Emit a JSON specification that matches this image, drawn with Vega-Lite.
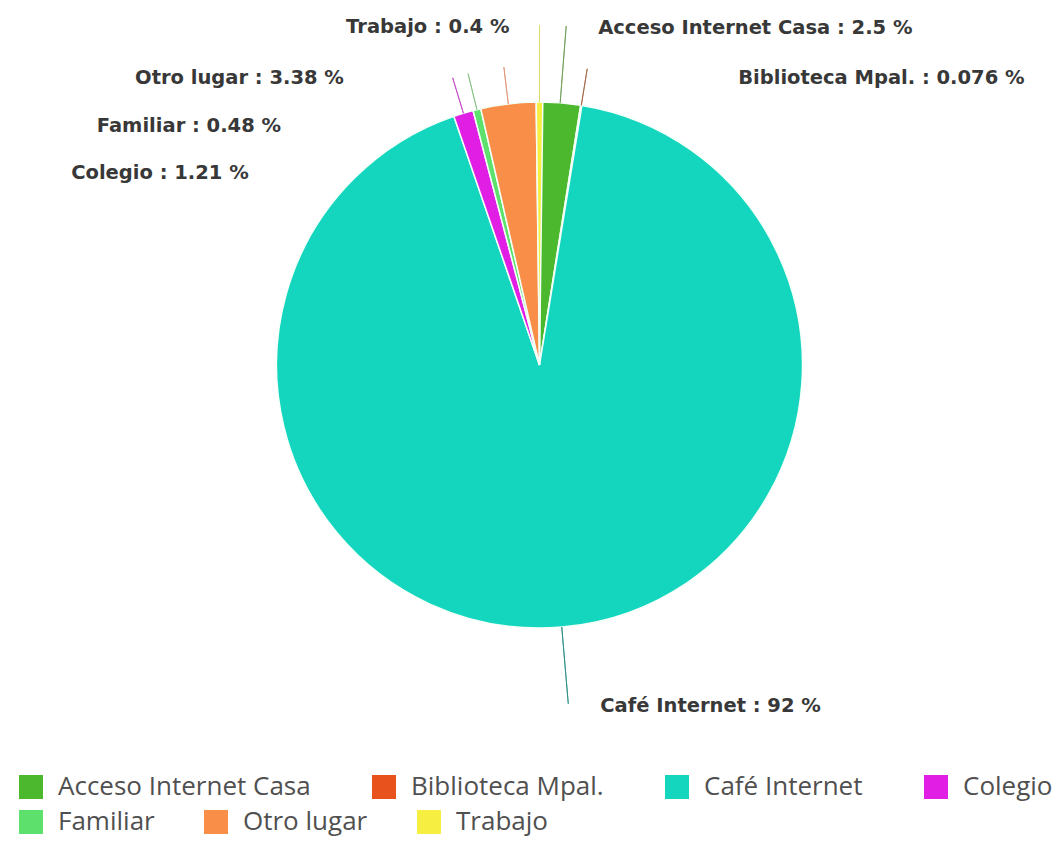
{
  "$schema": "https://vega.github.io/schema/vega-lite/v6.json",
  "autosize": "none",
  "width": 1047,
  "height": 730,
  "padding": {"left": 16, "top": 0, "right": 0, "bottom": 116},
  "background": "white",
  "config": {"view": {"stroke": null}},
  "data": {"values": [
    {"cat": "Acceso Internet Casa", "value": 2.5},
    {"cat": "Biblioteca Mpal.", "value": 0.076},
    {"cat": "Café Internet", "value": 92},
    {"cat": "Colegio", "value": 1.21},
    {"cat": "Familiar", "value": 0.48},
    {"cat": "Otro lugar", "value": 3.38},
    {"cat": "Trabajo", "value": 0.4}
  ]},
  "transform": [
    {"stack": "value", "groupby": [], "sort": [{"field": "cat", "order": "ascending"}], "as": ["v0", "v1"]},
    {"calculate": "(datum.v0 + datum.v1) / 2", "as": "mid"},
    {"calculate": "datum.cat + ' : ' + datum.value + ' %'", "as": "label"}
  ],
  "resolve": {"scale": {"color": "independent"}, "legend": {"color": "independent"}},
  "layer": [
    {
      "transform": [{"filter": {"field": "cat", "oneOf": ["Acceso Internet Casa", "Biblioteca Mpal.", "Café Internet", "Colegio"]}}],
      "mark": {"type": "arc", "radius": 263, "stroke": "#f4fff8", "strokeWidth": 1.5},
      "encoding": {
        "theta": {"field": "v0", "type": "quantitative"},
        "theta2": {"field": "v1"},
        "color": {
          "field": "cat", "type": "nominal",
          "scale": {"domain": ["Acceso Internet Casa", "Biblioteca Mpal.", "Café Internet", "Colegio"], "range": ["#4cb82e", "#e8521c", "#14d6bf", "#e01ee4"]},
          "legend": {"orient": "none", "legendX": 2, "legendY": 774, "direction": "horizontal", "title": null, "symbolType": "square", "symbolSize": 576, "symbolStrokeWidth": 0, "labelFont": "Open Sans", "labelFontSize": 26, "labelColor": "#505050", "labelOffset": 14, "labelLimit": 0, "columnPadding": 60, "padding": 0, "symbolOpacity": 1}
        }
      }
    },
    {
      "transform": [{"filter": {"field": "cat", "oneOf": ["Familiar", "Otro lugar", "Trabajo"]}}],
      "mark": {"type": "arc", "radius": 263, "stroke": "#f4fff8", "strokeWidth": 1.5},
      "encoding": {
        "theta": {"field": "v0", "type": "quantitative"},
        "theta2": {"field": "v1"},
        "color": {
          "field": "cat", "type": "nominal",
          "scale": {"domain": ["Familiar", "Otro lugar", "Trabajo"], "range": ["#5ee06c", "#f98e48", "#f6ee40"]},
          "legend": {"orient": "none", "legendX": 2, "legendY": 809, "direction": "horizontal", "title": null, "symbolType": "square", "symbolSize": 576, "symbolStrokeWidth": 0, "labelFont": "Open Sans", "labelFontSize": 26, "labelColor": "#505050", "labelOffset": 14, "labelLimit": 0, "columnPadding": 48, "padding": 0, "symbolOpacity": 1}
        }
      }
    },
    {
      "transform": [{"filter": {"field": "cat", "oneOf": ["Biblioteca Mpal.", "Colegio", "Familiar", "Otro lugar"]}}],
      "mark": {"type": "arc", "radius": 300, "radius2": 263, "strokeWidth": 1, "opacity": 0.8, "fill": null},
      "encoding": {
        "theta": {"field": "mid", "type": "quantitative"},
        "theta2": {"field": "mid"},
        "stroke": {"field": "cat", "type": "nominal", "legend": null,
          "scale": {"domain": ["Acceso Internet Casa", "Biblioteca Mpal.", "Café Internet", "Colegio", "Familiar", "Otro lugar", "Trabajo"], "range": ["#6a9a50", "#a06040", "#208a80", "#c040c0", "#80c080", "#e09070", "#e0d860"]}}
      }
    },
    {
      "transform": [{"filter": {"field": "cat", "oneOf": ["Acceso Internet Casa", "Café Internet", "Trabajo"]}}],
      "mark": {"type": "arc", "radius": 340, "radius2": 263, "strokeWidth": 1, "opacity": 0.8, "fill": null},
      "encoding": {
        "theta": {"field": "mid", "type": "quantitative"},
        "theta2": {"field": "mid"},
        "stroke": {"field": "cat", "type": "nominal", "legend": null}
      }
    },
    {
      "transform": [{"filter": {"field": "cat", "equal": "Trabajo"}}],
      "mark": {"type": "text", "radius": 340, "align": "right", "baseline": "middle", "dx": -30, "dy": 2, "font": "DejaVu Sans", "fontWeight": "bold", "fontSize": 19.5, "fill": "#383838"},
      "encoding": {"theta": {"field": "mid", "type": "quantitative"}, "text": {"field": "label"}}
    },
    {
      "transform": [{"filter": {"field": "cat", "equal": "Acceso Internet Casa"}}],
      "mark": {"type": "text", "radius": 340, "align": "left", "baseline": "middle", "dx": 32, "dy": 2, "font": "DejaVu Sans", "fontWeight": "bold", "fontSize": 19.5, "fill": "#383838"},
      "encoding": {"theta": {"field": "mid", "type": "quantitative"}, "text": {"field": "label"}}
    },
    {
      "transform": [{"filter": {"field": "cat", "equal": "Café Internet"}}],
      "mark": {"type": "text", "radius": 340, "align": "left", "baseline": "middle", "dx": 32, "dy": 2, "font": "DejaVu Sans", "fontWeight": "bold", "fontSize": 19.5, "fill": "#383838"},
      "encoding": {"theta": {"field": "mid", "type": "quantitative"}, "text": {"field": "label"}}
    },
    {
      "transform": [{"filter": {"field": "cat", "equal": "Otro lugar"}}],
      "mark": {"type": "text", "radius": 300, "align": "right", "baseline": "middle", "dx": -160, "dy": 11, "font": "DejaVu Sans", "fontWeight": "bold", "fontSize": 19.5, "fill": "#383838"},
      "encoding": {"theta": {"field": "mid", "type": "quantitative"}, "text": {"field": "label"}}
    },
    {
      "transform": [{"filter": {"field": "cat", "equal": "Familiar"}}],
      "mark": {"type": "text", "radius": 300, "align": "right", "baseline": "middle", "dx": -187, "dy": 52, "font": "DejaVu Sans", "fontWeight": "bold", "fontSize": 19.5, "fill": "#383838"},
      "encoding": {"theta": {"field": "mid", "type": "quantitative"}, "text": {"field": "label"}}
    },
    {
      "transform": [{"filter": {"field": "cat", "equal": "Colegio"}}],
      "mark": {"type": "text", "radius": 300, "align": "right", "baseline": "middle", "dx": -204, "dy": 95, "font": "DejaVu Sans", "fontWeight": "bold", "fontSize": 19.5, "fill": "#383838"},
      "encoding": {"theta": {"field": "mid", "type": "quantitative"}, "text": {"field": "label"}}
    },
    {
      "transform": [{"filter": {"field": "cat", "equal": "Biblioteca Mpal."}}],
      "mark": {"type": "text", "radius": 300, "align": "left", "baseline": "middle", "dx": 151, "dy": 9, "font": "DejaVu Sans", "fontWeight": "bold", "fontSize": 19.5, "fill": "#383838"},
      "encoding": {"theta": {"field": "mid", "type": "quantitative"}, "text": {"field": "label"}}
    }
  ]
}
